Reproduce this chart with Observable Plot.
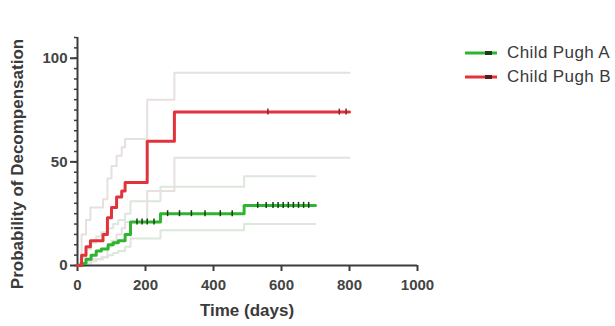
<!DOCTYPE html>
<html>
<head>
<meta charset="utf-8">
<script src="https://cdn.jsdelivr.net/npm/d3@7"></script>
<script src="https://cdn.jsdelivr.net/npm/@observablehq/plot@0.6"></script>
<style>
  html, body { margin: 0; padding: 0; background: #fff; }
  #wrap { position: relative; width: 615px; height: 326px; overflow: hidden; font-family: "Liberation Sans", Arial, sans-serif; }
  .leg { position: absolute; left: 465px; height: 20px; display: flex; align-items: center; font-size: 17px; letter-spacing: 0.4px; color: #3a3a3a; white-space: nowrap; }
  .leg svg { margin-right: 10px; }
</style>
</head>
<body>
<div id="wrap"></div>
<script>
// Child Pugh A (Kaplan-Meier cumulative probability, %)
const daysA = [0, 10, 25, 40, 55, 70, 90, 105, 120, 140, 156, 244, 490, 700];
const probA = [0, 1, 3, 5, 7, 8, 10, 11, 12, 15, 21, 25, 29, 29];
const upperA = [0, 4, 8, 11, 14, 16, 18, 20, 22, 25, 31, 38, 43, 43];
const lowerA = [0, 0, 1, 2, 3, 4, 5, 6, 7, 9, 13, 17, 20, 20];
const censorA = [175, 190, 205, 225, 265, 300, 335, 375, 420, 455, 530, 555, 575, 590, 605, 620, 635, 650, 665, 680];

// Child Pugh B
const daysB = [0, 12, 25, 38, 75, 88, 100, 115, 130, 140, 205, 285, 800];
const probB = [0, 5, 9, 12, 15, 23, 28, 33, 36, 40, 60, 74, 74];
const upperB = [0, 15, 22, 28, 32, 42, 48, 53, 57, 61, 80, 93, 93];
const lowerB = [0, 0, 2, 3, 4, 9, 12, 15, 18, 21, 36, 52, 52];
const censorB = [560, 770, 790];

const groups = ["Child Pugh A", "Child Pugh B"];
const colors = ["#2fb42f", "#e2333a"];

const xTicks = [0, 200, 400, 600, 800, 1000];
const yTicks = [0, 50, 100];
const yMinor = [0, 5, 10, 15, 20, 25, 30, 35, 40, 45, 50, 55, 60, 65, 70, 75, 80, 85, 90, 95, 100, 105, 110];

const curveA = daysA.map((d, i) => ({day: d, p: probA[i], hi: upperA[i], lo: lowerA[i], g: groups[0]}));
const curveB = daysB.map((d, i) => ({day: d, p: probB[i], hi: upperB[i], lo: lowerB[i], g: groups[1]}));

function valueAt(days, probs, t) {
  let v = probs[0];
  for (let i = 0; i < days.length; i++) if (days[i] <= t) v = probs[i];
  return v;
}
const censA = censorA.map(t => ({day: t, p: valueAt(daysA, probA, t)}));
const censB = censorB.map(t => ({day: t, p: valueAt(daysB, probB, t)}));

const axisColor = "#3c3c3c";

const chart = Plot.plot({
  width: 615,
  height: 326,
  marginLeft: 77,
  marginRight: 198,
  marginTop: 37,
  marginBottom: 61,
  style: {fontFamily: "Liberation Sans, Arial, sans-serif", background: "#fff"},
  x: {type: "linear", domain: [0, 1000]},
  y: {type: "linear", domain: [0, 110]},
  marks: [
    // confidence limits (light step lines)
    Plot.line(curveA, {x: "day", y: "hi", curve: "step-after", stroke: "#dce8dc", strokeWidth: 2}),
    Plot.line(curveA, {x: "day", y: "lo", curve: "step-after", stroke: "#dce8dc", strokeWidth: 2}),
    Plot.line(curveB, {x: "day", y: "hi", curve: "step-after", stroke: "#e6e0e0", strokeWidth: 2}),
    Plot.line(curveB, {x: "day", y: "lo", curve: "step-after", stroke: "#e6e0e0", strokeWidth: 2}),
    // axis lines
    Plot.ruleY([0], {x1: 0, x2: 1000, stroke: axisColor, strokeWidth: 2}),
    Plot.ruleX([0], {y1: 0, y2: 110, stroke: axisColor, strokeWidth: 2}),
    Plot.axisX({ticks: xTicks, tickFormat: d3.format("d"), tickSize: 6, tickPadding: 8, fontSize: 15, fontWeight: "bold", color: "#444", label: null, stroke: axisColor, strokeWidth: 2}),
    Plot.axisY({ticks: yMinor, tickSize: 3, text: null, label: null, stroke: axisColor, strokeWidth: 1.5}),
    Plot.axisY({ticks: yTicks, tickSize: 7, tickPadding: 3, fontSize: 15, fontWeight: "bold", color: "#444", label: null, stroke: axisColor, strokeWidth: 2}),
    // survival curves
    Plot.line(curveA, {x: "day", y: "p", curve: "step-after", stroke: colors[0], strokeWidth: 3}),
    Plot.line(curveB, {x: "day", y: "p", curve: "step-after", stroke: colors[1], strokeWidth: 3}),
    // censor marks
    Plot.ruleX(censA, {x: "day", y1: "p", y2: "p", insetTop: -3, insetBottom: -3, stroke: "#1d3a1d", strokeWidth: 1.5}),
    Plot.ruleX(censB, {x: "day", y1: "p", y2: "p", insetTop: -3, insetBottom: -3, stroke: "#7a2b2b", strokeWidth: 1.5})
  ]
});

const svg = d3.select(chart);
svg.append("text")
  .attr("transform", "translate(19,164) rotate(-90)")
  .attr("text-anchor", "middle")
  .attr("dominant-baseline", "middle")
  .attr("font-size", 17)
  .attr("font-weight", "bold")
  .attr("fill", "#3a3a3a")
  .text("Probability of Decompensation");
svg.append("text")
  .attr("x", 247)
  .attr("y", 312)
  .attr("text-anchor", "middle")
  .attr("dominant-baseline", "middle")
  .attr("font-size", 17)
  .attr("font-weight", "bold")
  .attr("fill", "#3a3a3a")
  .text("Time (days)");

const wrap = document.getElementById("wrap");
wrap.appendChild(chart);

const legCenters = [53, 77];
groups.forEach((g, i) => {
  const div = document.createElement("div");
  div.className = "leg";
  div.style.top = (legCenters[i] - 10) + "px";
  div.innerHTML = `<svg width="32" height="16"><line x1="0" y1="8" x2="32" y2="8" stroke="${colors[i]}" stroke-width="3"/><rect x="20" y="6" width="7" height="4" fill="${i === 0 ? "#1d3a1d" : "#5a1a1a"}"/></svg><span>${g}</span>`;
  wrap.appendChild(div);
});
</script>
</body>
</html>
